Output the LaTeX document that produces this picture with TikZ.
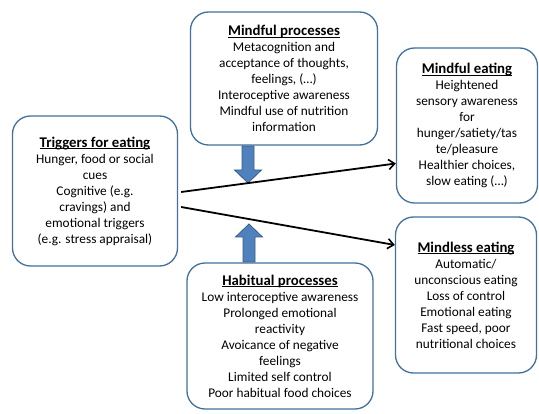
\documentclass[tikz,border=0pt]{standalone}
\usepackage{fontspec}
\setmainfont{Carlito}
\usetikzlibrary{arrows.meta}
\definecolor{boxblue}{HTML}{41719C}
\definecolor{arrfill}{HTML}{4F81BD}
\definecolor{arredge}{HTML}{385D8A}
\newcommand\boxtitle[1]{{\fontsize{14.8}{16}\selectfont\bfseries
  \setbox0\hbox{#1}\rlap{\rule[-2.2pt]{\wd0}{0.9pt}}\box0}}
\begin{document}
\begin{tikzpicture}[x=1pt,y=-1pt,
  box/.style={draw=boxblue, line width=1.3pt, rounded corners=18pt, align=center,
    font=\fontsize{13.3}{16}\selectfont, inner sep=0pt},
  conn/.style={line width=1.8pt, -{Straight Barb[length=6pt,width=10pt,line width=1.6pt]}},
  blockarrow/.style={fill=arrfill, draw=arredge, line width=0.8pt}]
\useasboundingbox (0,0) rectangle (539,414);
\fill[white] (0,0) rectangle (539,414);

\node[box, minimum width=165pt, minimum height=150pt] (trig) at (95,191)
  {\boxtitle{Triggers for eating}\\Hunger, food or social\\cues\\Cognitive (e.g.\\cravings) and\\emotional triggers\\(e.g. stress appraisal)};

\node[box, minimum width=187pt, minimum height=133pt] (mp) at (284,78.5)
  {\boxtitle{Mindful processes}\\Metacognition and\\acceptance of thoughts,\\feelings, (\dots)\\Interoceptive awareness\\Mindful use of nutrition\\information};

\node[box, minimum width=141pt, minimum height=155pt] (meat) at (467,125.5)
  {\boxtitle{Mindful eating}\\Heightened\\sensory awareness\\for\\hunger/satiety/tas\\te/pleasure\\Healthier choices,\\slow eating (\dots)};

\node[box, minimum width=141pt, minimum height=156pt] (mless) at (466,295)
  {\boxtitle{Mindless eating}\\Automatic/\\unconscious eating\\Loss of control\\Emotional eating\\Fast speed, poor\\nutritional choices};

\node[box, minimum width=186pt, minimum height=146pt] (hab) at (280,336)
  {\boxtitle{Habitual processes}\\Low interoceptive awareness\\Prolonged emotional\\reactivity\\Avoicance of negative\\feelings\\Limited self control\\Poor habitual food choices};

% block arrows
\draw[blockarrow] (242,146) -- (254,146) -- (254,170) -- (261.5,170) -- (248,183)
  -- (234.5,170) -- (242,170) -- cycle;
\draw[blockarrow] (243,262) -- (255,262) -- (255,237) -- (262.5,237) -- (249,224)
  -- (235.5,237) -- (243,237) -- cycle;

% connectors
\draw[conn] ([xshift=3pt,yshift=-1pt]trig.east) -- ([yshift=-38pt]meat.west);
\draw[conn] ([xshift=3pt,yshift=-16pt]trig.east) -- ([yshift=50pt]mless.west);
\end{tikzpicture}
\end{document}
